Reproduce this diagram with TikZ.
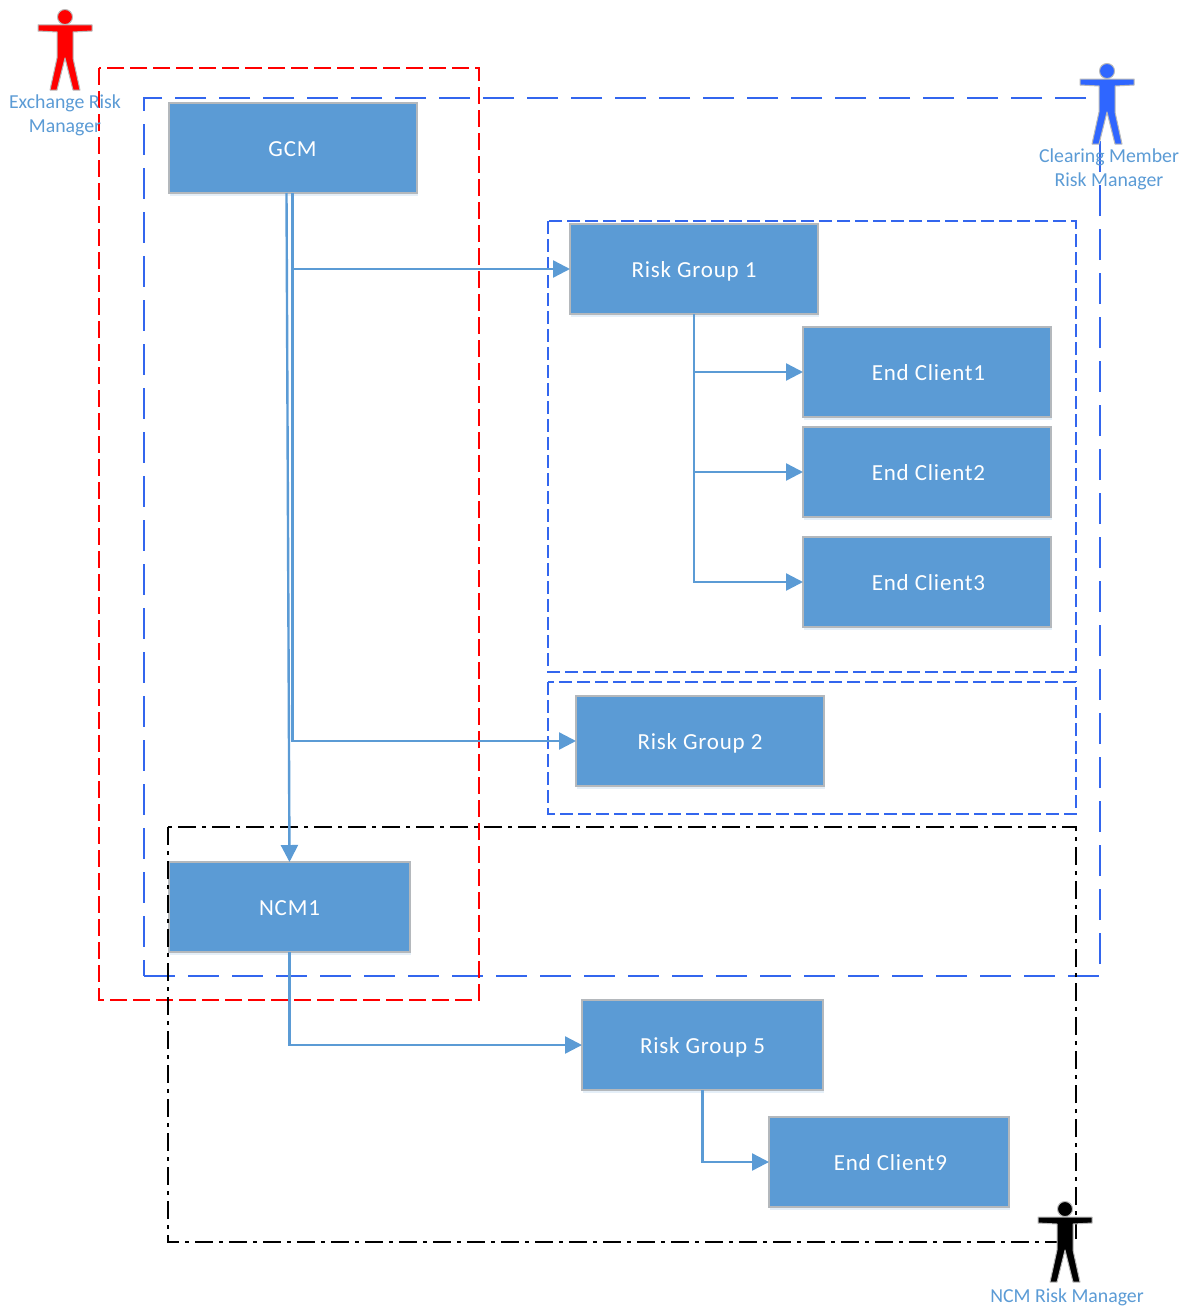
\documentclass[tikz,border=0pt]{standalone}
\usepackage{fontspec}
\setmainfont{Carlito}
\newfontfamily\boxfont[LetterSpace=3.5]{Carlito}
\newfontfamily\labfont{Carlito}
\usetikzlibrary{arrows.meta,shadows,positioning}
\definecolor{boxblue}{HTML}{5B9BD5}
\definecolor{boxedge}{HTML}{B4B8BC}
\definecolor{frameblue}{HTML}{3366EE}
\definecolor{manblue}{HTML}{2F66FF}
\tikzset{
  x=1pt,y=-1pt,
  rolebox/.style={draw=boxedge,line width=2pt,fill=boxblue,text=white,inner sep=0pt,outer sep=0pt,
    text height=16pt,text depth=0pt,
    font=\boxfont\fontsize{23}{27}\selectfont,
    general shadow={fill=boxblue,opacity=.16,shadow xshift=1pt,shadow yshift=-3pt}},
  link/.style={draw=boxblue,line width=2.4pt,-{Triangle[length=17pt,width=17pt]}},
  redframe/.style={draw=red,line width=2pt,dash pattern=on 17pt off 6pt},
  bigblue/.style={draw=frameblue,line width=2pt,dash pattern=on 31pt off 13pt},
  smallblue/.style={draw=frameblue,line width=2pt,dash pattern=on 13pt off 5pt},
  blackframe/.style={draw=black,line width=2pt,dash pattern=on 18pt off 6pt on 4pt off 6pt},
  rolelabel/.style={text=boxblue,align=center,inner sep=0pt,font=\labfont\fontsize{19.8}{23.5}\selectfont},
  person/.pic={
    \path[fill=#1,draw=gray!55,line width=1pt,line join=round]
      (-27,8) -- (27,8) -- (27,14) -- (8,15) -- (8,41) -- (15,73) -- (8,73) -- (0,41)
      -- (-8,73) -- (-15,73) -- (-8,41) -- (-8,15) -- (-27,14) -- cycle;
    \path[fill=#1,draw=gray!55,line width=1pt] (0,0) circle (7.5);
  }
}
\begin{document}
\begin{tikzpicture}
\useasboundingbox (0,0) rectangle (1188,1306);
% frames
\coordinate (rA) at (99,68);    \coordinate (rB) at (479,1000);
\coordinate (bA) at (144,976);  \coordinate (bB) at (1100,976);
\coordinate (bC) at (1100,98);  \coordinate (bD) at (144,98);
\coordinate (g1A) at (548,221); \coordinate (g1B) at (1076,672);
\coordinate (g2A) at (548,682); \coordinate (g2B) at (1076,814);
\coordinate (kA) at (168,827);  \coordinate (kB) at (1076,1242);
\draw[bigblue] (bA) -- (bB) -- (bC) -- (bD) -- cycle;
\draw[smallblue] (g1A) rectangle (g1B);
\draw[smallblue] (g2A) rectangle (g2B);
% boxes
\node[rolebox,minimum width=248pt,minimum height=90pt] (GCM) at (292.5,148) {GCM};
\node[rolebox,minimum width=248pt,minimum height=90pt] (RG1) at (694,269) {Risk Group 1};
\node[rolebox,minimum width=248pt,minimum height=90pt] (EC1) at (927,372) {\hspace{3pt}End Client1};
\node[rolebox,minimum width=248pt,minimum height=90pt] (EC2) at (927,472) {\hspace{3pt}End Client2};
\node[rolebox,minimum width=248pt,minimum height=90pt] (EC3) at (927,582) {\hspace{3pt}End Client3};
\node[rolebox,minimum width=248pt,minimum height=90pt] (RG2) at (700,741) {Risk Group 2};
\node[rolebox,minimum width=241pt,minimum height=90pt] (NCM) at (289.5,907) {NCM1};
\node[rolebox,minimum width=241pt,minimum height=90pt] (RG5) at (702.5,1045) {Risk Group 5};
\node[rolebox,minimum width=240pt,minimum height=90pt] (EC9) at (889,1162) {\hspace{3pt}End Client9};
% frames over boxes
\draw[redframe] (rA) rectangle (rB);
\draw[blackframe] (kA) rectangle (kB);
% connectors
\draw[link] ([xshift=-6pt]GCM.south) -- (NCM.north);
\draw[link] (GCM.south) |- (RG1.west);
\draw[link] (GCM.south) |- (RG2.west);
\draw[link] (RG1.south) |- (EC1.west);
\draw[link] (RG1.south) |- (EC2.west);
\draw[link] (RG1.south) |- (EC3.west);
\draw[link] (NCM.south) |- (RG5.west);
\draw[link] (RG5.south) |- (EC9.west);
% people
\pic at (65,17) {person=red};
\pic at (1107,71) {person=manblue};
\pic at (1065,1209) {person=black};
\node[rolelabel] (ex) at (65,115.5) {Exchange Risk\\Manager};
\node[rolelabel] (cm) at (1109,169.5) {Clearing Member\\Risk Manager};
\node[rolelabel] (ncm) at (1067,1297) {NCM Risk Manager};
\end{tikzpicture}
\end{document}
